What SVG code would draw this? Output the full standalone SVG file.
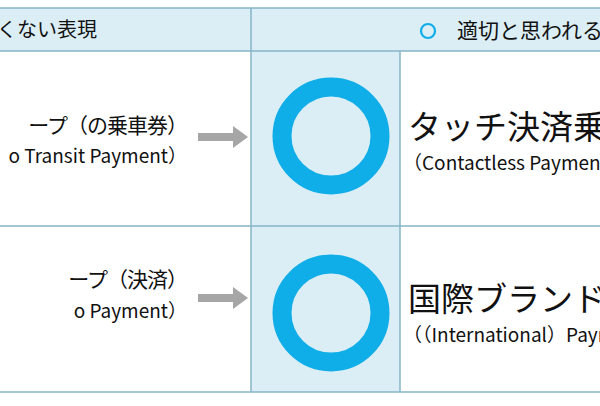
<svg xmlns="http://www.w3.org/2000/svg" width="600" height="406" viewBox="0 0 600 406">
<style>
.t{font-family:"Noto Sans CJK JP","Noto Sans",sans-serif;fill:#111;font-weight:400}
.ln{stroke:#86b5c8;stroke-width:1.5;fill:none}
.ring{fill:none;stroke:#10aee8;stroke-width:19}
.arr{fill:#a6a6a6}
</style>
<rect width="600" height="406" fill="#fff"/>
<rect x="0" y="8" width="600" height="43" fill="#dbeef5"/>
<rect x="251" y="51" width="149" height="341" fill="#dbeef5"/>
<g class="ln">
<line x1="0" y1="8" x2="600" y2="8"/>
<line x1="0" y1="51" x2="600" y2="51"/>
<line x1="0" y1="226" x2="600" y2="226"/>
<line x1="0" y1="392" x2="600" y2="392"/>
<line x1="251" y1="8" x2="251" y2="392"/>
<line x1="400" y1="51" x2="400" y2="392"/>
</g>
<g id="header">
<text class="t" x="-3" y="37" font-size="20">くない表現</text>
<circle cx="428" cy="31" r="7" fill="none" stroke="#10aee8" stroke-width="2.2"/>
<text class="t" x="457" y="38" font-size="21">適切と思われる</text>
</g>
<g id="row1">
<text class="t" x="187" y="133" font-size="21" text-anchor="end" letter-spacing="-1">ープ（の乗車券）</text>
<text class="t" x="187" y="163" font-size="19" text-anchor="end">o Transit Payment）</text>
<circle class="ring" cx="331" cy="136" r="49"/>
<text class="t" x="408" y="139" font-size="33">タッチ決済乗車</text>
<text class="t" x="403" y="170" font-size="19">（Contactless Payment）</text>
</g>
<g id="row2">
<text class="t" x="187" y="287" font-size="21" text-anchor="end" letter-spacing="-1">ープ（決済）</text>
<text class="t" x="187" y="318" font-size="19" text-anchor="end">o Payment）</text>
<circle class="ring" cx="331" cy="313" r="49"/>
<text class="t" x="408" y="311" font-size="33">国際ブランド</text>
<text class="t" x="403" y="342" font-size="19">（（International）Payment）</text>
</g>
<g id="connectors">
<polygon class="arr" points="198,133 233,133 233,126 248,137 233,148 233,141 198,141"/>
<polygon class="arr" points="198,294 233,294 233,287 248,298 233,309 233,302 198,302"/>
</g>
</svg>
